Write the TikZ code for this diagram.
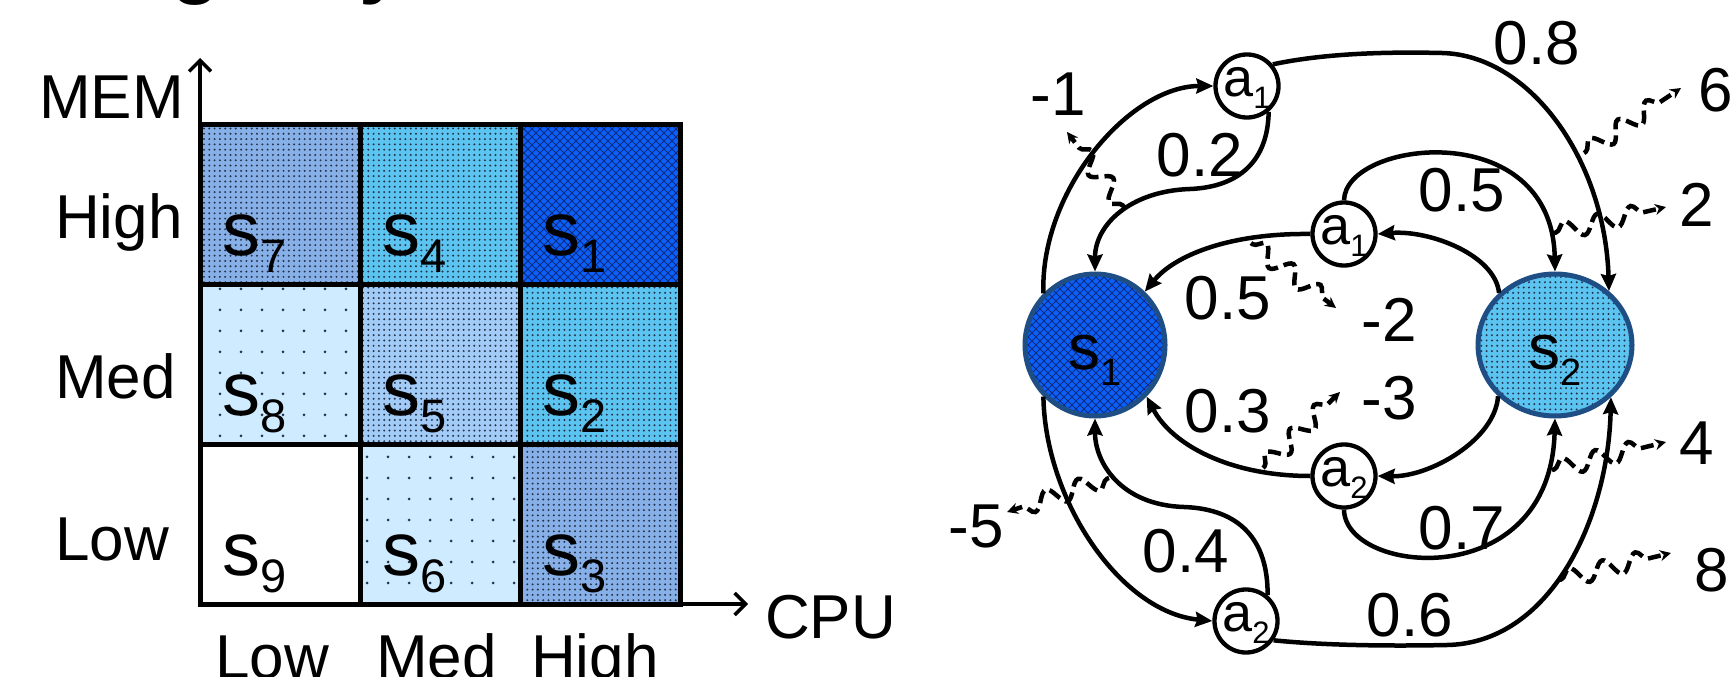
\documentclass[tikz,border=0pt]{standalone}
\usepackage{fontspec}
\setmainfont{Liberation Sans}
\usetikzlibrary{arrows.meta,patterns,decorations.pathmorphing,shapes.geometric}

\pgfdeclarepatternformonly{densedots}{\pgfqpoint{-1pt}{-1pt}}{\pgfqpoint{6.3pt}{6.3pt}}{\pgfqpoint{5.3pt}{5.3pt}}{%
  \pgfpathcircle{\pgfqpoint{2.6pt}{2.6pt}}{1.1pt}\pgfusepath{fill}}
\pgfdeclarepatternformonly{sparsedots}{\pgfqpoint{-2pt}{-2pt}}{\pgfqpoint{23pt}{23pt}}{\pgfqpoint{21pt}{21pt}}{%
  \pgfpathcircle{\pgfqpoint{10pt}{10pt}}{1.5pt}\pgfusepath{fill}}
\pgfdeclarepatternformonly{diamondhatch}{\pgfqpoint{-1pt}{-1pt}}{\pgfqpoint{9pt}{9pt}}{\pgfqpoint{8pt}{8pt}}{%
  \pgfsetlinewidth{1.0pt}%
  \pgfpathmoveto{\pgfqpoint{0pt}{0pt}}\pgfpathlineto{\pgfqpoint{8pt}{8pt}}%
  \pgfpathmoveto{\pgfqpoint{0pt}{8pt}}\pgfpathlineto{\pgfqpoint{8pt}{0pt}}%
  \pgfusepath{stroke}}

\definecolor{cdark}{HTML}{0A60F8}
\definecolor{hatchc}{HTML}{0B2A80}
\definecolor{ccyan}{HTML}{5CC4F0}
\definecolor{cgray}{HTML}{88B0E8}
\definecolor{cpale}{HTML}{CFEBFF}
\definecolor{cmid}{HTML}{A2CBF7}
\definecolor{dotc}{HTML}{25344A}
\definecolor{cring}{HTML}{1F4E85}

\newcommand\cellS[1]{{\fontsize{76}{76}\selectfont s}\raisebox{-17pt}{\fontsize{47}{47}\selectfont #1}}
\newcommand\circS[1]{{\fontsize{64}{64}\selectfont s}\raisebox{-16pt}{\fontsize{38}{38}\selectfont #1}}
\newcommand\actA[1]{{\fontsize{54}{54}\selectfont a}\raisebox{-12pt}{\fontsize{31}{31}\selectfont #1}}

\begin{document}
\begin{tikzpicture}[x=1pt,y=-1pt,
  lbl/.style={inner sep=0pt, font=\fontsize{62}{62}\selectfont},
  axisline/.style={line width=4pt, -{Straight Barb[length=11pt,width=22pt,line width=3.5pt]}},
  gridline/.style={line width=5pt},
  snode/.style={ellipse, draw=cring, line width=5pt, inner sep=0pt, text height=60pt, text depth=12pt},
  anode/.style={circle, draw, line width=4.3pt, fill=white, inner sep=0pt, minimum size=63pt, text height=31pt, text depth=11pt},
  tr/.style={line width=4.5pt, -{Stealth[length=17pt,width=15pt,inset=2pt]}},
  rw/.style={line width=4.5pt, dash pattern=on 13pt off 6pt, decorate,
    decoration={snake, amplitude=9pt, segment length=34pt, pre length=2pt, post length=10pt},
    -{Stealth[length=11pt,width=11pt]}}
]
\useasboundingbox (0,0) rectangle (1730,677);

% clipped title fragments
\node[inner sep=0pt, anchor=base, font=\bfseries\fontsize{80}{80}\selectfont] (tg) at (196,-11) {g};
\node[inner sep=0pt, anchor=base, font=\bfseries\fontsize{80}{80}\selectfont] (ty) at (382,-11) {y};

% ---------- grid ----------
\foreach \i/\j/\bg/\pat/\pc/\n in {
  0/0/cgray/densedots/dotc/7, 1/0/ccyan/densedots/dotc/4,
  1/1/cmid/densedots/dotc/5, 2/1/ccyan/densedots/dotc/2,
  0/1/cpale/sparsedots/dotc/8, 1/2/cpale/sparsedots/dotc/6,
  0/2/white/sparsedots/white/9, 2/2/cgray/densedots/dotc/3} {
  \fill[\bg] (200+160*\i,124+160*\j) rectangle ++(160,160);
  \fill[pattern=\pat, pattern color=\pc] (200+160*\i,124+160*\j) rectangle ++(160,160);
  \node[inner sep=0pt, anchor=base west] (cell\n) at (222+160*\i,255+160*\j) {\cellS{\n}};
}
\fill[cdark] (520,124) rectangle (680,284);
\fill[pattern=diamondhatch, pattern color=hatchc] (520,124) rectangle (680,284);
\node[inner sep=0pt, anchor=base west] (cell1) at (542,255) {\cellS{1}};

\draw[gridline] (200,124) rectangle (680,604);
\draw[gridline] (360,124) -- (360,604) (520,124) -- (520,604)
                (200,284) -- (680,284) (200,444) -- (680,444);

\coordinate (O) at (200,604);
\coordinate (ytop) at (200,58);
\coordinate (xend) at (748,604);
\draw[axisline] (O) -- (ytop);
\draw[axisline] (O) -- (xend);

\node[lbl, anchor=base west] (mem) at (39,118) {MEM};
\node[lbl, anchor=base west] (cpu) at (765,638) {CPU};
\node[lbl, anchor=base west] (rhigh) at (55,238) {High};
\node[lbl, anchor=base west] (rmed) at (55,398) {Med};
\node[lbl, anchor=base west] (rlow) at (55,560) {Low};
\node[lbl, anchor=base west] (clow) at (215,678) {Low};
\node[lbl, anchor=base west] (cmed) at (376,678) {Med};
\node[lbl, anchor=base west] (chigh) at (531,678) {High};

% ---------- MDP ----------
\node[snode, minimum width=140pt, minimum height=142pt, preaction={fill=cdark},
      pattern=diamondhatch, pattern color=hatchc] (s1) at (1095,345) {\circS{1}};
\node[snode, minimum width=154pt, minimum height=142pt, preaction={fill=ccyan},
      pattern=densedots, pattern color=dotc] (s2) at (1555,345) {\circS{2}};
\node[anode] (a1t) at (1247,86) {\actA{1}};
\node[anode] (a1m) at (1344,234) {\actA{1}};
\node[anode] (a2m) at (1344,476) {\actA{2}};
\node[anode] (a2b) at (1246,621) {\actA{2}};

\draw[tr] (s1.135) .. controls (1040,190) and (1130,86) .. (a1t.west);
\draw[tr] (a1t.-50) .. controls (1268,160) and (1240,187) .. (1190,189)
          .. controls (1130,191) and (1095,225) .. (s1.north);
\draw[tr] (a1t.40) .. controls (1330,52) and (1400,52) .. (1442,53)
          .. controls (1530,55) and (1605,160) .. (s2.45);
\draw[tr] (s2.137) .. controls (1495,255) and (1430,230) .. (a1m.east);
\draw[tr] (a1m.north) .. controls (1345,140) and (1552,115) .. (s2.north);
\draw[tr] (a1m.west) .. controls (1230,233) and (1175,255) .. (s1.47);
\draw[tr] (a2m.west) .. controls (1230,476) and (1172,445) .. (s1.-45);
\draw[tr] (s2.-138) .. controls (1495,440) and (1430,477) .. (a2m.east);
\draw[tr] (a2m.south) .. controls (1345,575) and (1550,595) .. (s2.south);
\draw[tr] (s1.-135) .. controls (1045,500) and (1120,612) .. (a2b.west);
\draw[tr] (a2b.50) .. controls (1268,540) and (1240,509) .. (1184,507)
          .. controls (1120,505) and (1095,462) .. (s1.south);
\draw[tr] (a2b.-35) .. controls (1330,646) and (1400,646) .. (1447,645)
          .. controls (1550,643) and (1608,520) .. (s2.-43);

% probabilities
\node[lbl] (p02) at (1200,155) {0.2};
\node[lbl] (p08) at (1537,43) {0.8};
\node[lbl] (p05a) at (1462,190) {0.5};
\node[lbl] (p05b) at (1228,298) {0.5};
\node[lbl] (p03) at (1228,411) {0.3};
\node[lbl] (p07) at (1462,528) {0.7};
\node[lbl] (p04) at (1186,551) {0.4};
\node[lbl] (p06) at (1410,615) {0.6};

% rewards
\node[lbl] (r1) at (1058,94) {-1};
\node[lbl] (r6) at (1716,90) {6};
\node[lbl] (r2) at (1697,205) {2};
\node[lbl] (rm2) at (1389,320) {-2};
\node[lbl] (rm3) at (1389,398) {-3};
\node[lbl] (r4) at (1697,443) {4};
\node[lbl] (r8) at (1712,570) {8};
\node[lbl] (rm5) at (976,526) {-5};

\coordinate (w1a) at (1124,207);  \coordinate (w1b) at (1067,132);
\coordinate (w6a) at (1584,153);  \coordinate (w6b) at (1681,88);
\coordinate (w2a) at (1554,233);  \coordinate (w2b) at (1666,207);
\coordinate (wm2a) at (1251,243); \coordinate (wm2b) at (1336,308);
\coordinate (wm3a) at (1263,468); \coordinate (wm3b) at (1340,392);
\coordinate (w4a) at (1552,470);  \coordinate (w4b) at (1666,442);
\coordinate (w8a) at (1559,580);  \coordinate (w8b) at (1671,553);
\coordinate (wm5a) at (1109,478); \coordinate (wm5b) at (1007,512);

\draw[rw] (w1a) -- (w1b);
\draw[rw] (w6a) -- (w6b);
\draw[rw] (w2a) -- (w2b);
\draw[rw] (wm2a) -- (wm2b);
\draw[rw] (wm3a) -- (wm3b);
\draw[rw] (w4a) -- (w4b);
\draw[rw] (w8a) -- (w8b);
\draw[rw] (wm5a) -- (wm5b);
\end{tikzpicture}
\end{document}
